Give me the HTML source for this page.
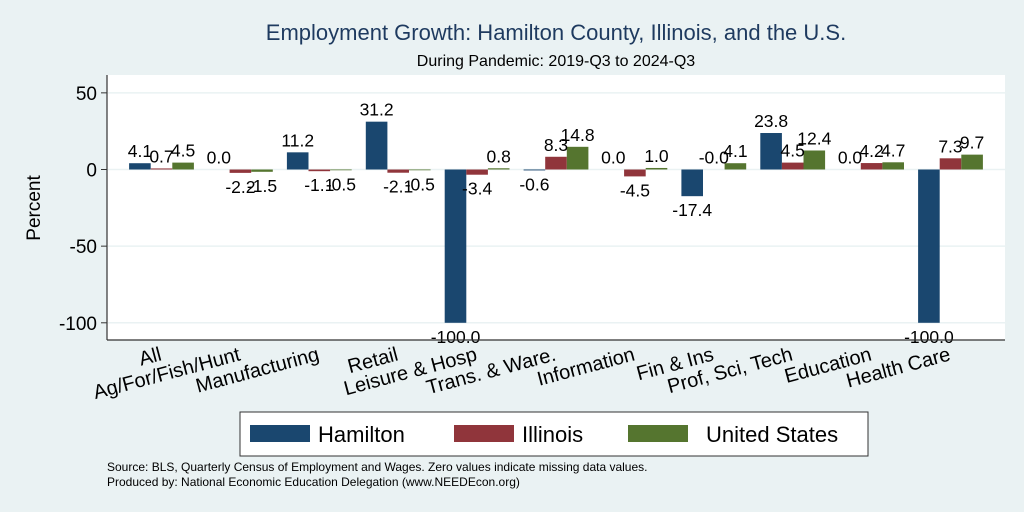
<!DOCTYPE html>
<html><head><meta charset="utf-8"><style>
body{margin:0;background:#eaf2f3;}
svg{display:block;font-family:"Liberation Sans",Arial,sans-serif;}
</style></head><body>
<svg id="chart" width="1024" height="512">
<rect width="1024" height="512" fill="#eaf2f3"/>
<text x="556" y="40" text-anchor="middle" font-size="22" fill="#1e3a5f">Employment Growth: Hamilton County, Illinois, and the U.S.</text>
<text x="556" y="66" text-anchor="middle" font-size="16" fill="#000">During Pandemic: 2019-Q3 to 2024-Q3</text>
<rect x="107" y="75" width="898" height="265" fill="#fff"/>
<g id="grid"></g>
<g id="bars"></g>
<g id="labels"></g>
<line x1="107" y1="75" x2="107" y2="340" stroke="#333" stroke-width="1.2"/>
<line x1="107" y1="340" x2="1005" y2="340" stroke="#333" stroke-width="1.2"/>
<g id="yticks"></g>
<g id="xticks"></g>
<text transform="translate(40,208) rotate(-90)" text-anchor="middle" font-size="19">Percent</text>
<g>
<rect x="240" y="412" width="628" height="44" fill="#fff" stroke="#333" stroke-width="1"/>
<rect x="250" y="425" width="60" height="17" fill="#1a476f"/>
<text x="318" y="442" font-size="22">Hamilton</text>
<rect x="454" y="425" width="60" height="17" fill="#90353b"/>
<text x="522" y="442" font-size="22">Illinois</text>
<rect x="628" y="425" width="60" height="17" fill="#55752f"/>
<text x="706" y="442" font-size="22">United States</text>
</g>
<text x="107" y="471" font-size="12">Source: BLS, Quarterly Census of Employment and Wages. Zero values indicate missing data values.</text>
<text x="107" y="486" font-size="12">Produced by: National Economic Education Delegation (www.NEEDEcon.org)</text>
</svg>
<script>
const categories=["All","Ag/For/Fish/Hunt","Manufacturing","Retail","Leisure & Hosp","Trans. & Ware.","Information","Fin & Ins","Prof, Sci, Tech","Education","Health Care"];
const hamilton=[4.1,0.0,11.2,31.2,-100.0,-0.6,0.0,-17.4,23.8,0.0,-100.0];
const illinois=[0.7,-2.2,-1.1,-2.1,-3.4,8.3,-4.5,-0.0,4.5,4.2,7.3];
const unitedStates=[4.5,-1.5,-0.5,-0.5,0.8,14.8,1.0,4.1,12.4,4.7,9.7];
const yTicks=[50,0,-50,-100];
const seriesList=[{n:"hamilton",v:hamilton,c:"#1a476f"},{n:"illinois",v:illinois,c:"#90353b"},{n:"us",v:unitedStates,c:"#55752f"}];
const NS="http://www.w3.org/2000/svg";
function y(v){return 169.5-v*1.533;}
function xc(i){return 161.5+i*78.9;}
const BW=21.6;
function mk(t,a,p){const e=document.createElementNS(NS,t);for(const k in a)e.setAttribute(k,a[k]);document.getElementById(p).appendChild(e);return e;}
yTicks.forEach(t=>{
 const g=mk("line",{x1:108,x2:1005,y1:y(t),y2:y(t),stroke:"#eaf2f3","stroke-width":1.5},"grid");
 
 
 const tk=mk("line",{x1:101,x2:107,y1:y(t),y2:y(t),stroke:"#333"},"yticks");
 
 
 const tl=mk("text",{x:97,y:y(t)+7,"text-anchor":"end","font-size":19},"yticks");
 tl.textContent=t;
 
 
});
categories.forEach((c,i)=>{
 seriesList.forEach((s,j)=>{
  const v=s.v[i];const x0=xc(i)+(j-1.5)*BW;
  const top=Math.min(y(v),y(0)),h=Math.abs(y(v)-y(0));
  const r=mk("rect",{x:x0,y:top,width:BW,height:Math.max(h,0),fill:s.c},"bars");
  
  
  const l=mk("text",{x:x0+BW/2,y:v<0?y(v)+20:y(v)-6,"text-anchor":"middle","font-size":17.5},"labels");
  l.textContent=v.toFixed(1);
  if(v===0&&Object.is(v,-0))l.textContent="-0.0";
  
  
 });
 const lx=xc(i)+1, ly=360;
 const t=mk("text",{x:lx,y:ly,"text-anchor":"end","font-size":20,transform:`rotate(-15 ${lx} ${ly})`},"xticks");
 t.textContent=c;
 
 
});
</script>
</body></html>
